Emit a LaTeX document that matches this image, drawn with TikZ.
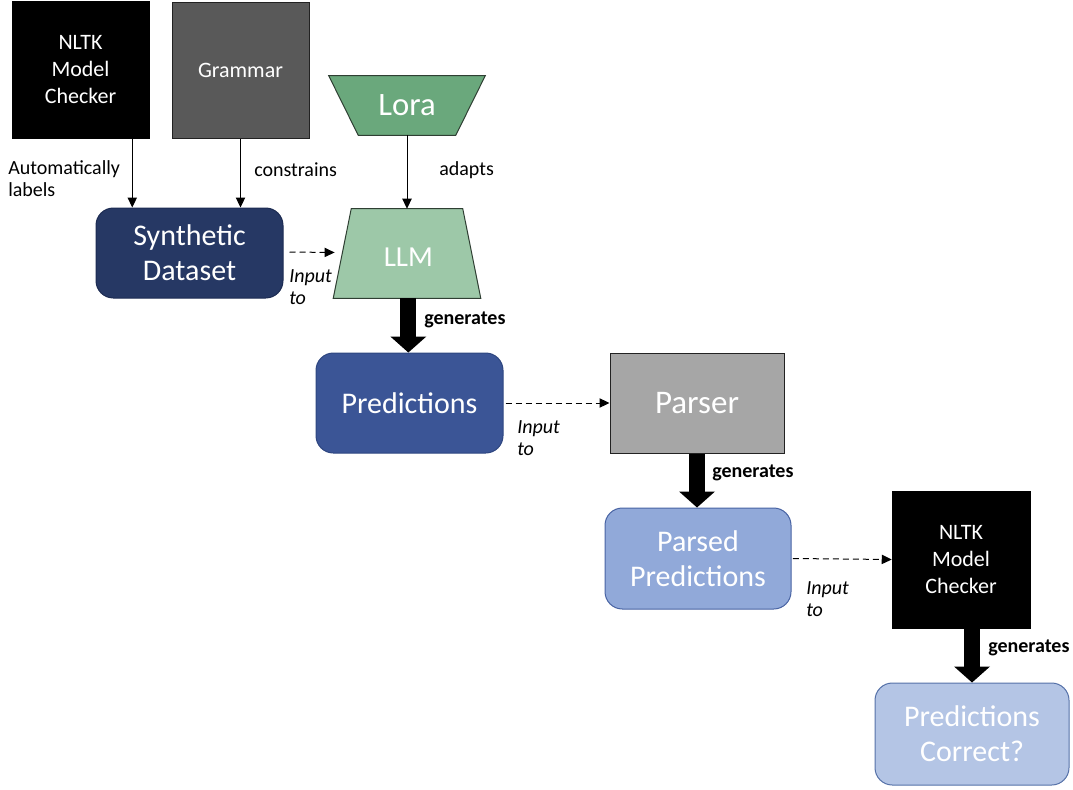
\documentclass[tikz,border=0pt]{standalone}
\usepackage{fontspec}
\setmainfont{Carlito}
\usetikzlibrary{arrows.meta,calc}

\definecolor{navy}{HTML}{263864}
\definecolor{navyline}{HTML}{1C2B52}
\definecolor{predblue}{HTML}{3B5596}
\definecolor{predline}{HTML}{2E4680}
\definecolor{parsedblue}{HTML}{91A9D9}
\definecolor{parsedline}{HTML}{4863A3}
\definecolor{correctblue}{HTML}{B4C5E5}
\definecolor{correctline}{HTML}{5571A8}
\definecolor{loragreen}{HTML}{6AA87C}
\definecolor{llmgreen}{HTML}{9DC8A8}
\definecolor{greenline}{HTML}{2F3F33}
\definecolor{grammargray}{HTML}{595959}
\definecolor{parsergray}{HTML}{A6A6A6}
\definecolor{boxline}{HTML}{222222}

\tikzset{
  blackbox/.style={rectangle, fill=black, draw=black, text=white, align=center,
    font=\fontsize{16.5}{20}\selectfont, inner sep=0pt},
  graybox/.style={rectangle, draw=boxline, line width=0.75pt, text=white, align=center, inner sep=0pt},
  roundbox/.style={rectangle, rounded corners=13pt, line width=0.75pt, text=white, align=center,
    font=\fontsize{22.5}{26.25}\selectfont, inner sep=0pt},
  trapcore/.style={rectangle, text=white, inner sep=0pt},
  trapedge/.style={draw=greenline, line width=0.75pt},
  lbl/.style={inner sep=0pt, font=\fontsize{15}{16.5}\selectfont},
  inputlbl/.style={lbl, align=left, font=\fontsize{15}{17}\selectfont\itshape},
  genlbl/.style={lbl, font=\fontsize{15}{16.5}\selectfont\bfseries},
  thinarrow/.style={line width=0.75pt, -{Triangle[width=7pt,length=7.5pt]}},
  feedarrow/.style={line width=0.75pt, dash pattern=on 4.5pt off 3pt, -{Triangle[width=7pt,length=7.5pt]}},
  bigarrow/.style={line width=12pt, draw=black, -{Triangle[width=27pt,length=12pt,line width=0pt]}}
}

\begin{document}
\begin{tikzpicture}[x=0.75pt, y=-0.75pt]
\useasboundingbox (0,0) rectangle (1073,789);

% top sources
\node[blackbox, minimum width=102.75pt, minimum height=102.75pt] (nltka) at (80.5,69.5) {NLTK\\Model\\Checker};
\node[graybox, fill=grammargray, minimum width=102.75pt, minimum height=102pt,
  font=\fontsize{16.5}{20}\selectfont] (grammar) at (240.5,70) {Grammar};

% Lora: inverted trapezoid around its bottom-width core
\node[trapcore, minimum width=72.75pt, minimum height=44.25pt] (lora) at (407,105.5) {};
\fill[loragreen, trapedge] ([xshift=-22.125pt]lora.north west) -- ([xshift=22.125pt]lora.north east)
  -- (lora.south east) -- (lora.south west) -- cycle;
\node[text=white, font=\fontsize{24.5}{28}\selectfont] (loratext) at (lora) {Lora};

% dataset and model
\node[roundbox, fill=navy, draw=navyline, minimum width=140.25pt, minimum height=67.5pt] (synth) at (189.5,253) {Synthetic\\Dataset};

% LLM: upright trapezoid around its top-width core
\node[trapcore, minimum width=83.25pt, minimum height=66.75pt] (llm) at (407,253.5) {};
\fill[llmgreen, trapedge] (llm.north west) -- (llm.north east)
  -- ([xshift=13.5pt]llm.south east) -- ([xshift=-13.5pt]llm.south west) -- cycle;
\node[text=white, font=\fontsize{21.75}{25}\selectfont] (llmtext) at ([xshift=1pt,yshift=-3pt]llm) {LLM};

% pipeline
\node[roundbox, fill=predblue, draw=predline, minimum width=140.25pt, minimum height=75pt] (pred) at (409.5,403) {Predictions};
\node[graybox, fill=parsergray, minimum width=130.5pt, minimum height=75pt,
  font=\fontsize{24.75}{28}\selectfont] (parser) at (697,403) {Parser};
\node[roundbox, fill=parsedblue, draw=parsedline, minimum width=139.5pt, minimum height=75.75pt] (parsed) at (698,558.5) {Parsed\\Predictions};
\node[blackbox, minimum width=103.5pt, minimum height=102.75pt] (nltkb) at (961,559.5) {NLTK\\Model\\Checker};
\node[roundbox, fill=correctblue, draw=correctline, minimum width=145.5pt, minimum height=76.5pt] (correct) at (972,734) {Predictions\\Correct?};

% thin connectors
\draw[thinarrow] ([xshift=-12.75pt]nltka.south east) -- ([xshift=-12.75pt]nltka.south east |- synth.north);
\draw[thinarrow] (grammar.south) -- (grammar.south |- synth.north);
\draw[thinarrow] (lora.south) -- (lora.south |- llm.north);

\node[lbl, anchor=west, align=left] (autolbl) at (8,179) {Automatically\\labels};
\node[lbl, anchor=west] (conlbl) at (254,170) {constrains};
\node[lbl, anchor=west] (adalbl) at (439,170) {adapts};

% dashed inputs
\draw[feedarrow] ([xshift=4.5pt,yshift=0.75pt]synth.east) -- ([xshift=-12.5pt,yshift=0.75pt]llm.west);
\draw[feedarrow] ([xshift=1.5pt]pred.east) -- (parser.west);
\draw[feedarrow] ([xshift=1pt]parsed.east) -- (nltkb.west);

\node[inputlbl, anchor=west] (in1) at (289,287) {Input\\to};
\node[inputlbl, anchor=west] (in2) at (517,438) {Input\\to};
\node[inputlbl, anchor=west] (in3) at (806,599) {Input\\to};

% generation arrows
\draw[bigarrow] ([xshift=1pt]llm.south) -- ([xshift=1pt]llm.south |- pred.north);
\draw[bigarrow] (parser.south) -- (parser.south |- parsed.north);
\draw[bigarrow] (nltkb.south -| correct.north) -- (correct.north);

\node[genlbl, anchor=west] (gen1) at (424,320) {generates};
\node[genlbl, anchor=west] (gen2) at (712,473) {generates};
\node[genlbl, anchor=west] (gen3) at (988,648) {generates};
\end{tikzpicture}
\end{document}
